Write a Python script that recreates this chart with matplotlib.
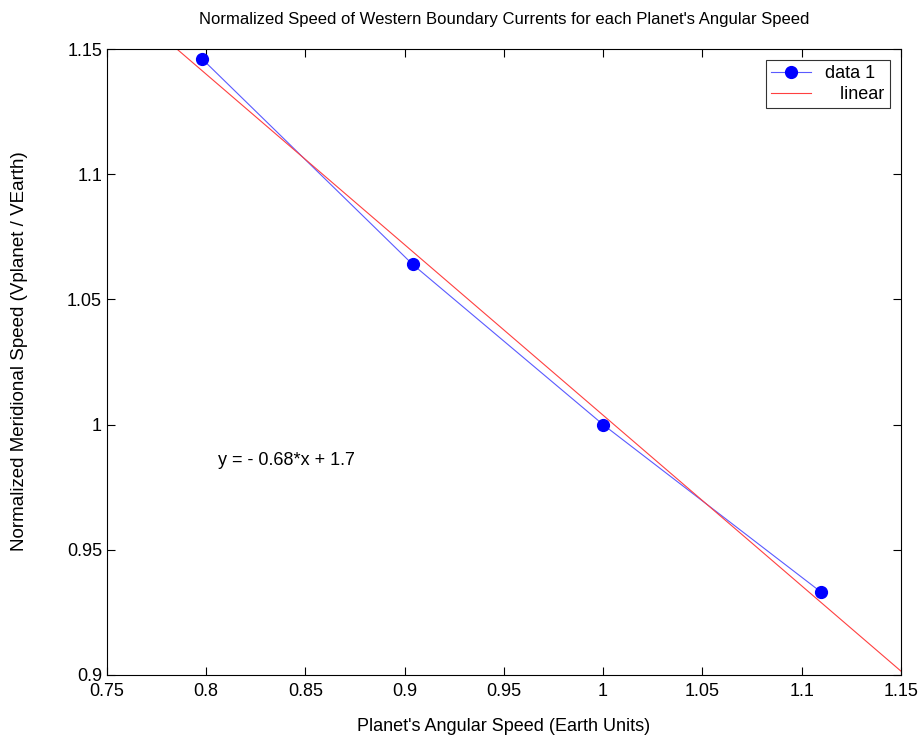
import numpy as np
from matplotlib import pyplot as plt

plt.rcParams['font.family'] = ['Liberation Sans', 'DejaVu Sans']

# planet angular speed vs normalized meridional speed
omega = [0.798, 0.904, 1.0, 1.11]
speed = [1.146, 1.064, 1.0, 0.933]

# linear fit
p = np.polyfit(omega, speed, 1)
xfit = np.array([0.75, 1.15])
yfit = np.polyval(p, xfit)

fig = plt.figure(figsize=(9.22, 7.47), dpi=100)
ax = fig.add_axes([0.116, 0.0964, 0.861, 0.838])

ax.plot(omega, speed, '-', color='#5a5aff', lw=0.8, marker='o', ms=8.5,
        mfc='blue', mec='blue', label='data 1')
ax.plot(xfit, yfit, '-', color='#ff4040', lw=0.8, label='   linear')

ax.set_xlim(0.75, 1.15)
ax.set_ylim(0.9, 1.15)
ax.set_xticks([0.75, 0.8, 0.85, 0.9, 0.95, 1, 1.05, 1.1, 1.15])
ax.set_xticklabels(['0.75', '0.8', '0.85', '0.9', '0.95', '1', '1.05', '1.1', '1.15'])
ax.set_yticks([0.9, 0.95, 1, 1.05, 1.1, 1.15])
ax.set_yticklabels(['0.9', '0.95', '1', '1.05', '1.1', '1.15'])
ax.tick_params(direction='in', top=True, right=True, labelsize=13, length=6)
ax.tick_params(axis='x', pad=6)

ax.text(0.806, 0.984, 'y = - 0.68*x + 1.7', fontsize=13)

ax.set_title("Normalized Speed of Western Boundary Currents for each Planet's Angular Speed",
             fontsize=12, pad=18)
ax.set_xlabel("Planet's Angular Speed (Earth Units)", fontsize=13, labelpad=13)
ax.set_ylabel("Normalized Meridional Speed (Vplanet / VEarth)", fontsize=13.5)
ax.yaxis.set_label_coords(-0.1, 0.518)

leg = ax.legend(loc='upper right', fontsize=13, fancybox=False, edgecolor='black',
                borderaxespad=0.6, handlelength=2.2, borderpad=0.3, labelspacing=0.2)
leg.get_frame().set_linewidth(0.8)

plt.savefig('out.png')
